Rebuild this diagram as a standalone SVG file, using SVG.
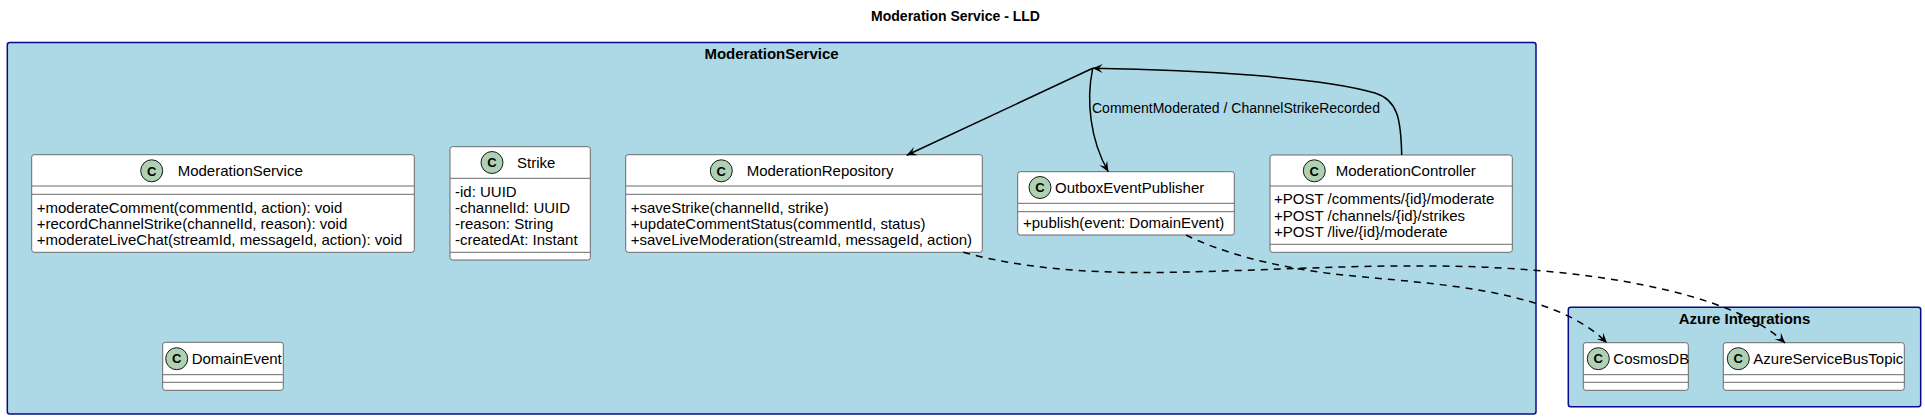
<svg xmlns="http://www.w3.org/2000/svg" width="1925" height="419" viewBox="0 0 1925 419">
<style>
.pkg{fill:#ADD8E6;stroke:#0A0A8C;stroke-width:1.5}
.pkgt{font-family:"Liberation Sans",Arial,sans-serif;font-size:15px;font-weight:bold;fill:#000;text-anchor:middle}
.box{fill:#FFFFFF;stroke:#6B6B6B;stroke-width:1}
.div{stroke:#6B6B6B;stroke-width:1}
.circ{fill:#ADD1B2;stroke:#181818;stroke-width:1}
.cl{font-family:"Liberation Sans",Arial,sans-serif;font-size:13px;font-weight:bold;fill:#000;text-anchor:middle}
.nm{font-family:"Liberation Sans",Arial,sans-serif;font-size:15px;fill:#000}
.mb{font-family:"Liberation Sans",Arial,sans-serif;font-size:15px;fill:#000}
.lbl{font-family:"Liberation Sans",Arial,sans-serif;font-size:14px;fill:#000}
.title{font-family:"Liberation Sans",Arial,sans-serif;font-size:14px;font-weight:bold;fill:#000;text-anchor:middle}
.solid{fill:none;stroke:#000;stroke-width:1.5}
.dash{fill:none;stroke:#000;stroke-width:1.5;stroke-dasharray:7,6}
</style>
<defs>
<marker id="arr" viewBox="-11 -6 12 12" refX="0" refY="0" markerWidth="12" markerHeight="12" markerUnits="userSpaceOnUse" orient="auto">
<path d="M0,0 L-10,-4.5 L-6,0 L-10,4.5 Z" fill="#000" stroke="none"/>
</marker>
</defs>
<rect width="1925" height="419" fill="#FFFFFF"/>
<text class="title" x="955.5" y="20.5">Moderation Service - LLD</text>

<g id="pkg-moderation">
<rect class="pkg" x="7.3" y="42.5" width="1528.7" height="371.5" rx="2.5"/>
<text class="pkgt" x="771.5" y="58.5">ModerationService</text>
</g>
<g id="pkg-azure">
<rect class="pkg" x="1568.3" y="307.3" width="352.4" height="99.4" rx="2.5"/>
<text class="pkgt" x="1744.5" y="323.5">Azure Integrations</text>
</g>

<g id="ModerationService">
<rect class="box" x="31.7" y="154.7" width="382.6" height="97.6" rx="2.5"/>
<circle class="circ" cx="151.7" cy="170.8" r="11"/>
<text class="cl" x="151.7" y="175.5">C</text>
<text class="nm" x="177.7" y="176">ModerationService</text>
<line class="div" x1="31.7" y1="186" x2="414.3" y2="186"/>
<line class="div" x1="31.7" y1="194.3" x2="414.3" y2="194.3"/>
<text class="mb" x="36.7" y="212.5">+moderateComment(commentId, action): void</text>
<text class="mb" x="36.7" y="228.5">+recordChannelStrike(channelId, reason): void</text>
<text class="mb" x="36.7" y="244.5">+moderateLiveChat(streamId, messageId, action): void</text>
</g>

<g id="Strike">
<rect class="box" x="450" y="146.7" width="140.3" height="113.3" rx="2.5"/>
<circle class="circ" cx="492" cy="162.5" r="11"/>
<text class="cl" x="492" y="167.2">C</text>
<text class="nm" x="517" y="167.7">Strike</text>
<line class="div" x1="450" y1="178.3" x2="590.3" y2="178.3"/>
<text class="mb" x="455" y="197">-id: UUID</text>
<text class="mb" x="455" y="213">-channelId: UUID</text>
<text class="mb" x="455" y="229">-reason: String</text>
<text class="mb" x="455" y="245">-createdAt: Instant</text>
<line class="div" x1="450" y1="252.3" x2="590.3" y2="252.3"/>
</g>

<g id="ModerationRepository">
<rect class="box" x="625.7" y="154.7" width="356.6" height="97.6" rx="2.5"/>
<circle class="circ" cx="721.3" cy="170.8" r="11"/>
<text class="cl" x="721.3" y="175.5">C</text>
<text class="nm" x="746.7" y="176">ModerationRepository</text>
<line class="div" x1="625.7" y1="186" x2="982.3" y2="186"/>
<line class="div" x1="625.7" y1="194.3" x2="982.3" y2="194.3"/>
<text class="mb" x="630.7" y="212.5">+saveStrike(channelId, strike)</text>
<text class="mb" x="630.7" y="228.5">+updateCommentStatus(commentId, status)</text>
<text class="mb" x="630.7" y="244.5">+saveLiveModeration(streamId, messageId, action)</text>
</g>

<g id="OutboxEventPublisher">
<rect class="box" x="1017.7" y="171.7" width="216.6" height="63.3" rx="2.5"/>
<circle class="circ" cx="1040" cy="187.5" r="11"/>
<text class="cl" x="1040" y="192.2">C</text>
<text class="nm" x="1055" y="192.7">OutboxEventPublisher</text>
<line class="div" x1="1017.7" y1="203.3" x2="1234.3" y2="203.3"/>
<line class="div" x1="1017.7" y1="211.7" x2="1234.3" y2="211.7"/>
<text class="mb" x="1023" y="228">+publish(event: DomainEvent)</text>
</g>

<g id="ModerationController">
<rect class="box" x="1270" y="155" width="242.3" height="97.3" rx="2.5"/>
<circle class="circ" cx="1314.3" cy="170.8" r="11"/>
<text class="cl" x="1314.3" y="175.5">C</text>
<text class="nm" x="1335.7" y="176">ModerationController</text>
<line class="div" x1="1270" y1="186" x2="1512.3" y2="186"/>
<text class="mb" x="1274" y="204">+POST /comments/{id}/moderate</text>
<text class="mb" x="1274" y="220.7">+POST /channels/{id}/strikes</text>
<text class="mb" x="1274" y="236.7">+POST /live/{id}/moderate</text>
<line class="div" x1="1270" y1="244.3" x2="1512.3" y2="244.3"/>
</g>

<g id="DomainEvent">
<rect class="box" x="162.7" y="342.3" width="120.6" height="48" rx="2.5"/>
<circle class="circ" cx="176.7" cy="358.7" r="11"/>
<text class="cl" x="176.7" y="363.4">C</text>
<text class="nm" x="191.7" y="364">DomainEvent</text>
<line class="div" x1="162.7" y1="374.7" x2="283.3" y2="374.7"/>
<line class="div" x1="162.7" y1="382.3" x2="283.3" y2="382.3"/>
</g>

<g id="CosmosDB">
<rect class="box" x="1583.3" y="342.7" width="105" height="47.6" rx="2.5"/>
<circle class="circ" cx="1598.3" cy="358.7" r="11"/>
<text class="cl" x="1598.3" y="363.4">C</text>
<text class="nm" x="1613.3" y="364">CosmosDB</text>
<line class="div" x1="1583.3" y1="374.7" x2="1688.3" y2="374.7"/>
<line class="div" x1="1583.3" y1="382.3" x2="1688.3" y2="382.3"/>
</g>

<g id="AzureServiceBusTopic">
<rect class="box" x="1723.3" y="342.7" width="181" height="47.6" rx="2.5"/>
<circle class="circ" cx="1738.3" cy="358.7" r="11"/>
<text class="cl" x="1738.3" y="363.4">C</text>
<text class="nm" x="1753.3" y="364">AzureServiceBusTopic</text>
<line class="div" x1="1723.3" y1="374.7" x2="1904.3" y2="374.7"/>
<line class="div" x1="1723.3" y1="382.3" x2="1904.3" y2="382.3"/>
</g>

<g id="connectors">
<path class="solid" d="M1092.7,68.3 L906.7,155.3" marker-end="url(#arr)"/>
<path class="solid" d="M1092.7,68.3 C1086,100 1090,140 1108.3,171.7" marker-end="url(#arr)"/>
<path class="solid" d="M1401.7,155 C1401,120 1398,100 1375,93 C1320,77 1200,70 1092.7,68.3" marker-end="url(#arr)"/>
<text class="lbl" x="1092" y="113.3">CommentModerated / ChannelStrikeRecorded</text>
<path class="dash" d="M963.3,252.3 C1020,268 1090,273.5 1160,272.5 C1260,271 1340,265 1440,266 C1580,267.5 1730,290 1785,343" marker-end="url(#arr)"/>
<path class="dash" d="M1186,235 C1220,252 1270,266 1330,273.5 C1420,284 1550,285 1607,343" marker-end="url(#arr)"/>
</g>
</svg>
